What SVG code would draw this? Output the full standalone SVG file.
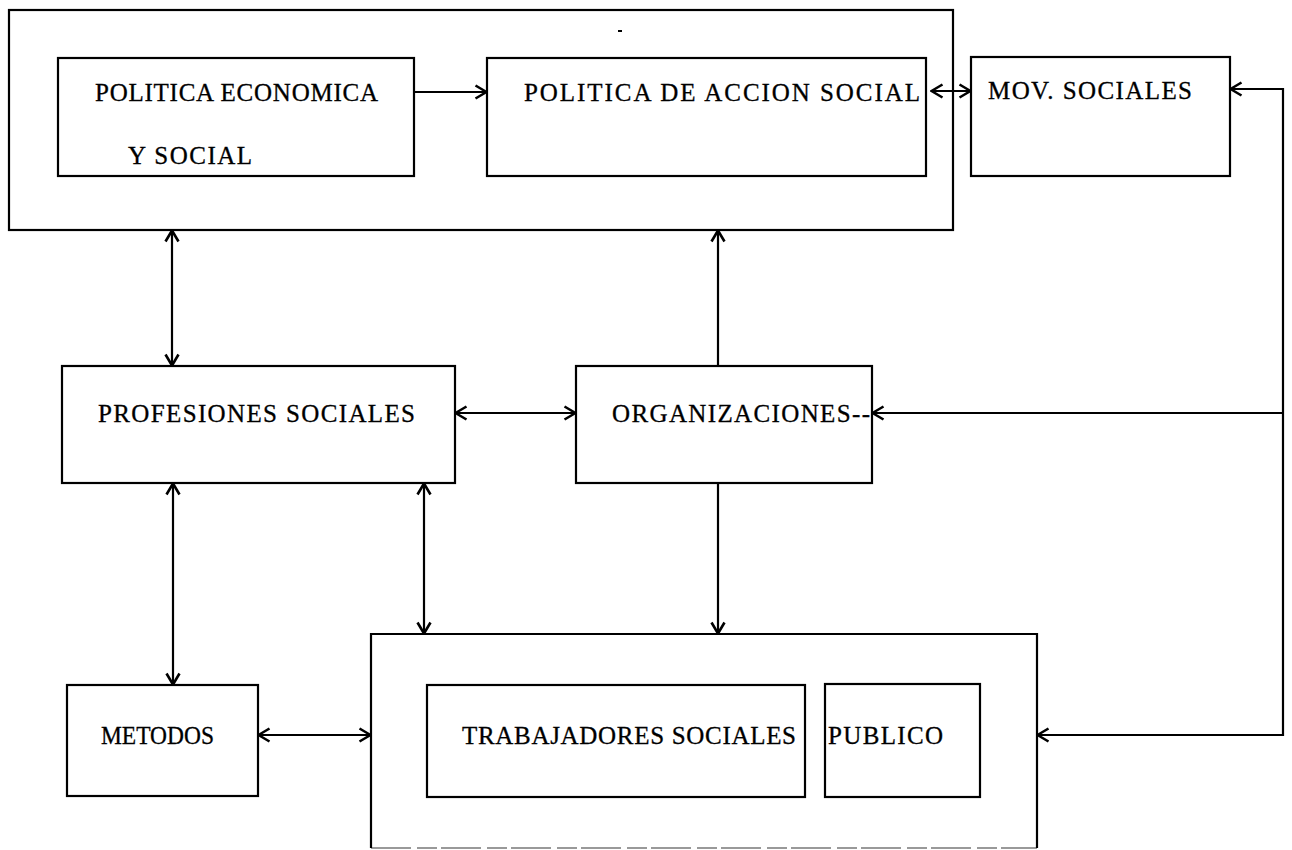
<svg xmlns="http://www.w3.org/2000/svg" width="1292" height="850" viewBox="0 0 1292 850">
<defs>
<marker id="ah" viewBox="0 0 14 16" refX="13" refY="8" markerWidth="14" markerHeight="16" markerUnits="userSpaceOnUse" orient="auto-start-reverse">
<path d="M1.5,1.5 L12.5,8 L1.5,14.5" fill="none" stroke="#000" stroke-width="2.6"/>
</marker>
<style>
.box{fill:none;stroke:#000;stroke-width:2.2}
.t{font-family:"Liberation Serif","Times New Roman",serif;font-size:25px;fill:#000;stroke:#000;stroke-width:0.3}
.c{fill:none;stroke:#000;stroke-width:2.2}
</style>
</defs>
<rect width="1292" height="850" fill="#fff"/>
<g id="n-politicas-outer"><rect class="box" x="9" y="10" width="944" height="220"/><line x1="618" y1="31" x2="622" y2="31" stroke="#000" stroke-width="2"/></g>
<g id="n-politica-economica"><rect class="box" x="58" y="58" width="356" height="118"/>
<text class="t" x="95" y="101" textLength="283" lengthAdjust="spacing">POLITICA ECONOMICA</text>
<text class="t" x="128" y="164" textLength="124" lengthAdjust="spacing">Y SOCIAL</text></g>
<g id="n-politica-accion"><rect class="box" x="487" y="58" width="439" height="118"/>
<text class="t" x="524" y="101" textLength="396" lengthAdjust="spacing">POLITICA DE ACCION SOCIAL</text></g>
<g id="n-mov-sociales"><rect class="box" x="971" y="57" width="259" height="119"/>
<text class="t" x="988" y="99" textLength="204" lengthAdjust="spacing">MOV. SOCIALES</text></g>
<g id="n-profesiones"><rect class="box" x="62" y="366" width="393" height="117"/>
<text class="t" x="98" y="422" textLength="317" lengthAdjust="spacing">PROFESIONES SOCIALES</text></g>
<g id="n-organizaciones"><rect class="box" x="576" y="366" width="296" height="117"/>
<text class="t" x="612" y="422" textLength="258" lengthAdjust="spacing">ORGANIZACIONES--</text></g>
<g id="n-metodos"><rect class="box" x="67" y="685" width="191" height="111"/>
<text class="t" x="101" y="744" textLength="113" lengthAdjust="spacingAndGlyphs">METODOS</text></g>
<g id="n-trabajo-outer"><path class="box" d="M371,848 L371,634 L1037,634 L1037,848"/>
<line x1="371" y1="848" x2="1037" y2="848" stroke="#000" stroke-width="2" stroke-opacity="0.4" stroke-dasharray="40,6,20,4"/></g>
<g id="n-trabajadores"><rect class="box" x="427" y="685" width="378" height="112"/>
<text class="t" x="462" y="744" textLength="334" lengthAdjust="spacing">TRABAJADORES SOCIALES</text></g>
<g id="n-publico"><rect class="box" x="825" y="684" width="155" height="113"/>
<text class="t" x="828" y="744" textLength="115" lengthAdjust="spacing">PUBLICO</text></g>
<g id="connectors">
<line class="c" x1="414" y1="92" x2="487" y2="92" marker-end="url(#ah)"/>
<line class="c" x1="931" y1="91" x2="971" y2="91" marker-start="url(#ah)" marker-end="url(#ah)"/>
<polyline class="c" points="1230,89 1283,89 1283,735 1037,735" marker-start="url(#ah)" marker-end="url(#ah)"/>
<line class="c" x1="1283" y1="413" x2="872" y2="413" marker-end="url(#ah)"/>
<line class="c" x1="172" y1="230" x2="172" y2="366" marker-start="url(#ah)" marker-end="url(#ah)"/>
<line class="c" x1="718" y1="366" x2="718" y2="230" marker-end="url(#ah)"/>
<line class="c" x1="455" y1="413" x2="576" y2="413" marker-start="url(#ah)" marker-end="url(#ah)"/>
<line class="c" x1="718" y1="483" x2="718" y2="634" marker-end="url(#ah)"/>
<line class="c" x1="173" y1="483" x2="173" y2="685" marker-start="url(#ah)" marker-end="url(#ah)"/>
<line class="c" x1="424" y1="483" x2="424" y2="634" marker-start="url(#ah)" marker-end="url(#ah)"/>
<line class="c" x1="258" y1="735" x2="371" y2="735" marker-start="url(#ah)" marker-end="url(#ah)"/>
</g>
</svg>
